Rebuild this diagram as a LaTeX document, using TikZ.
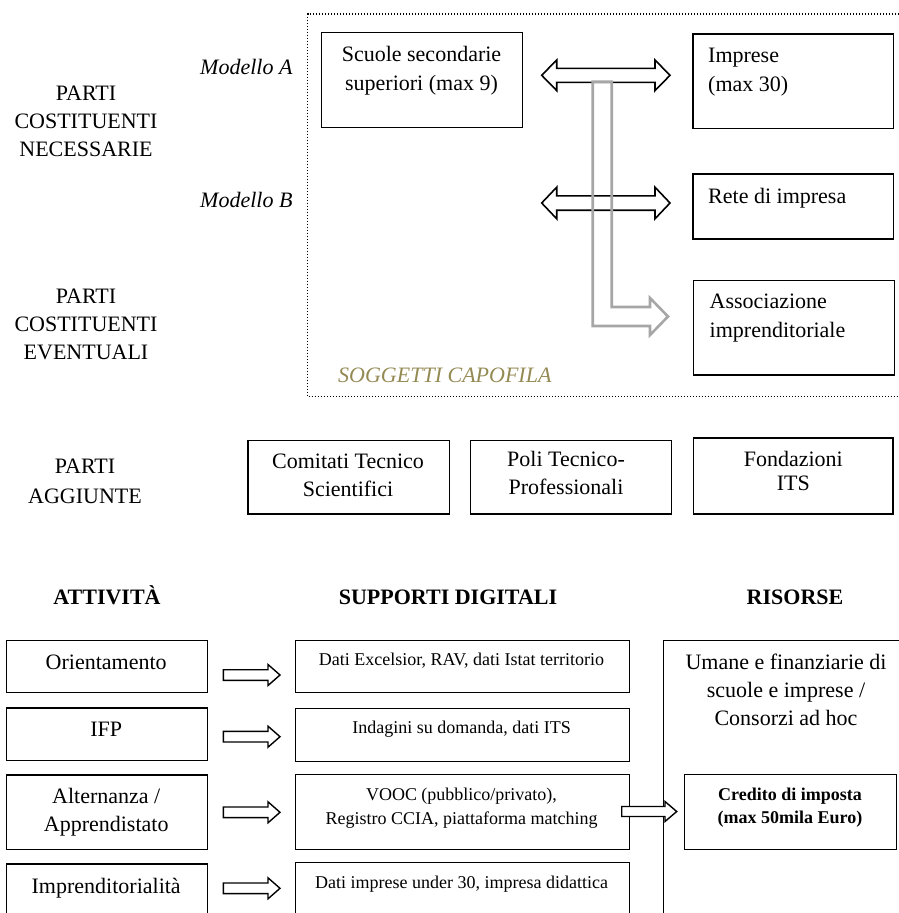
\documentclass[tikz,border=0pt]{standalone}
\usepackage{fontspec}
\setmainfont{Liberation Serif}
\definecolor{capo}{RGB}{148,138,84}
\definecolor{grayarr}{RGB}{166,166,166}
% right-pointing block arrow: x0, xback, xtip, y, shaft half, head half
\newcommand{\rblkarrow}[6]{(#1,#4-#5) -- (#2,#4-#5) -- (#2,#4-#6) -- (#3,#4) -- (#2,#4+#6) -- (#2,#4+#5) -- (#1,#4+#5) -- cycle}
% double block arrow: xleft, xlback, xrback, xright, y, shaft half, head half
\newcommand{\dblkarrow}[7]{(#1,#5) -- (#2,#5-#7) -- (#2,#5-#6) -- (#3,#5-#6) -- (#3,#5-#7) -- (#4,#5) -- (#3,#5+#7) -- (#3,#5+#6) -- (#2,#5+#6) -- (#2,#5+#7) -- cycle}
\begin{document}
\begin{tikzpicture}[x=1pt,y=-1pt,
  bx/.style={draw, line width=1.3pt, inner sep=0pt, anchor=north west},
  tx/.style={inner sep=0pt, align=center, anchor=base, font=\fontsize{22}{29}\selectfont},
  txl/.style={inner sep=0pt, align=left, anchor=base west, font=\fontsize{22}{29}\selectfont},
  sm/.style={inner sep=0pt, align=center, anchor=base, font=\fontsize{18}{24}\selectfont},
  hd/.style={inner sep=0pt, anchor=base, font=\fontsize{22}{28}\selectfont\bfseries},
  blk/.style={draw, line width=1.6pt, line join=miter},
  gblk/.style={draw=grayarr, line width=2.6pt, line join=miter},
  sblk/.style={draw, fill=white, line width=1.4pt, line join=miter},
  dotline/.style={line width=1.4pt, dash pattern=on 1.3pt off 1.7pt}
]
\useasboundingbox (0,0) rectangle (899,913);
\clip (0,0) rectangle (899,913);

% (multi-line nodes: base anchor = baseline of the last line)

% ---------- upper part ----------
\draw[dotline] (905,14) -- (307.6,14) -- (307.6,396.5) -- (905,396.5);

\node[tx, font=\fontsize{22}{28.3}\selectfont] (pcn) at (86,156.6) {PARTI\\COSTITUENTI\\NECESSARIE};
\node[tx, font=\fontsize{22}{28.3}\selectfont] (pce) at (86,359.9) {PARTI\\COSTITUENTI\\EVENTUALI};
\node[tx, anchor=base east, font=\fontsize{22}{28}\selectfont\itshape] (moda) at (292.7,74.3) {Modello A};
\node[tx, anchor=base east, font=\fontsize{22}{28}\selectfont\itshape] (modb) at (292.7,207.3) {Modello B};

\node[bx, minimum width=201pt, minimum height=95pt] (scuole) at (321,32) {};
\node[tx] (scuoleT) at (421.5,90) {Scuole secondarie\\superiori (max 9)};

\node[bx, minimum width=200.5pt, minimum height=94.4pt] (imprese) at (692.3,33.3) {};
\node[txl] (impreseT) at (708,91) {Imprese\\(max 30)};

\node[bx, minimum width=200.5pt, minimum height=65pt] (rete) at (692.3,173.3) {};
\node[txl] (reteT) at (708,203) {Rete di impresa};

\node[bx, minimum width=201.3pt, minimum height=94.3pt] (assoc) at (692.7,280) {};
\node[txl] (assocT) at (709.5,337.5) {Associazione\\imprenditoriale};

\node[txl, font=\fontsize{22}{28}\selectfont\itshape, text=capo] (capofila) at (338,382.7) {SOGGETTI CAPOFILA};

% double arrows
\draw[blk] \dblkarrow{541.7}{556.7}{655}{670}{75.3}{7}{15.3};
\draw[blk] \dblkarrow{541.7}{556.7}{655}{670}{203}{7.2}{15.8};
% gray arrow
\draw[gblk] (592.7,81.7) -- (611.7,81.7) -- (611.7,307) -- (650,307) -- (650,298) -- (668,316.5) -- (650,335) -- (650,326) -- (592.7,326) -- cycle;

% ---------- parti aggiunte ----------
\node[tx, font=\fontsize{22}{30}\selectfont] (pag) at (85,503.3) {PARTI\\AGGIUNTE};
\node[bx, minimum width=201.7pt, minimum height=73.3pt] (comitati) at (247.3,440) {};
\node[tx, font=\fontsize{22}{28.4}\selectfont] (comitatiT) at (348,496.7) {Comitati Tecnico\\Scientifici};
\node[bx, minimum width=201pt, minimum height=73.3pt] (poli) at (470,440) {};
\node[tx, font=\fontsize{22}{28.4}\selectfont] (poliT) at (566,494.9) {Poli Tecnico-\\Professionali};
\node[bx, minimum width=199.6pt, minimum height=76pt] (fond) at (692.7,437.3) {};
\node[tx, font=\fontsize{22}{24}\selectfont] (fondT) at (793.3,490) {Fondazioni\\ITS};

% ---------- headers ----------
\node[hd] (hatt) at (107,604) {ATTIVITÀ};
\node[hd] (hsup) at (448,604) {SUPPORTI DIGITALI};
\node[hd] (hris) at (795,604) {RISORSE};

% ---------- left column ----------
\node[bx, minimum width=201pt, minimum height=52pt] (orient) at (5.7,640) {};
\node[tx] (orientT) at (106.2,669) {Orientamento};
\node[bx, minimum width=201pt, minimum height=52.7pt] (ifp) at (5.7,707.3) {};
\node[tx] (ifpT) at (106.2,736) {IFP};
\node[bx, minimum width=201pt, minimum height=74.2pt] (altern) at (5.7,774.3) {};
\node[tx, font=\fontsize{22}{28.5}\selectfont] (alternT) at (106.2,831.8) {Alternanza /\\Apprendistato};
\node[bx, minimum width=201pt, minimum height=70pt] (impr) at (5.7,863.3) {};
\node[tx] (imprT) at (106.2,893.3) {Imprenditorialità};

% ---------- middle column ----------
\node[bx, minimum width=334pt, minimum height=51.7pt] (sup1) at (294.5,640) {};
\node[sm] (sup1T) at (461.5,665) {Dati Excelsior, RAV, dati Istat territorio};
\node[bx, minimum width=334pt, minimum height=52.7pt] (sup2) at (294.5,708) {};
\node[sm] (sup2T) at (461.5,733.3) {Indagini su domanda, dati ITS};
\node[bx, minimum width=334pt, minimum height=75pt] (sup3) at (294.5,774) {};
\node[sm] (sup3T) at (461.5,824) {VOOC (pubblico/privato),\\Registro CCIA, piattaforma matching};
\node[bx, minimum width=334pt, minimum height=70pt] (sup4) at (294.5,862) {};
\node[sm] (sup4T) at (461.5,888.3) {Dati imprese under 30, impresa didattica};

% ---------- right column ----------
\node[bx, minimum width=260pt, minimum height=300pt] (risorse) at (662.5,640) {};
\node[tx, font=\fontsize{22}{28}\selectfont] (risorseT) at (786,725) {Umane e finanziarie di\\scuole e imprese /\\Consorzi ad hoc};
\node[bx, minimum width=211.5pt, minimum height=75pt] (credito) at (684,774) {};
\node[sm, font=\fontsize{18}{23.3}\selectfont\bfseries] (creditoT) at (790,823.3) {Credito di imposta\\(max 50mila Euro)};

% ---------- small arrows ----------
\draw[sblk] \rblkarrow{223.3}{268}{280}{675}{5.3}{10.5};
\draw[sblk] \rblkarrow{223.3}{268}{280}{736.7}{5.3}{10.5};
\draw[sblk] \rblkarrow{223.3}{268}{280}{812.3}{5.3}{10.5};
\draw[sblk] \rblkarrow{223.3}{268}{280}{888.3}{5.3}{10.5};
\draw[sblk] \rblkarrow{621.7}{665}{676.7}{811.5}{5}{10};
\end{tikzpicture}
\end{document}
